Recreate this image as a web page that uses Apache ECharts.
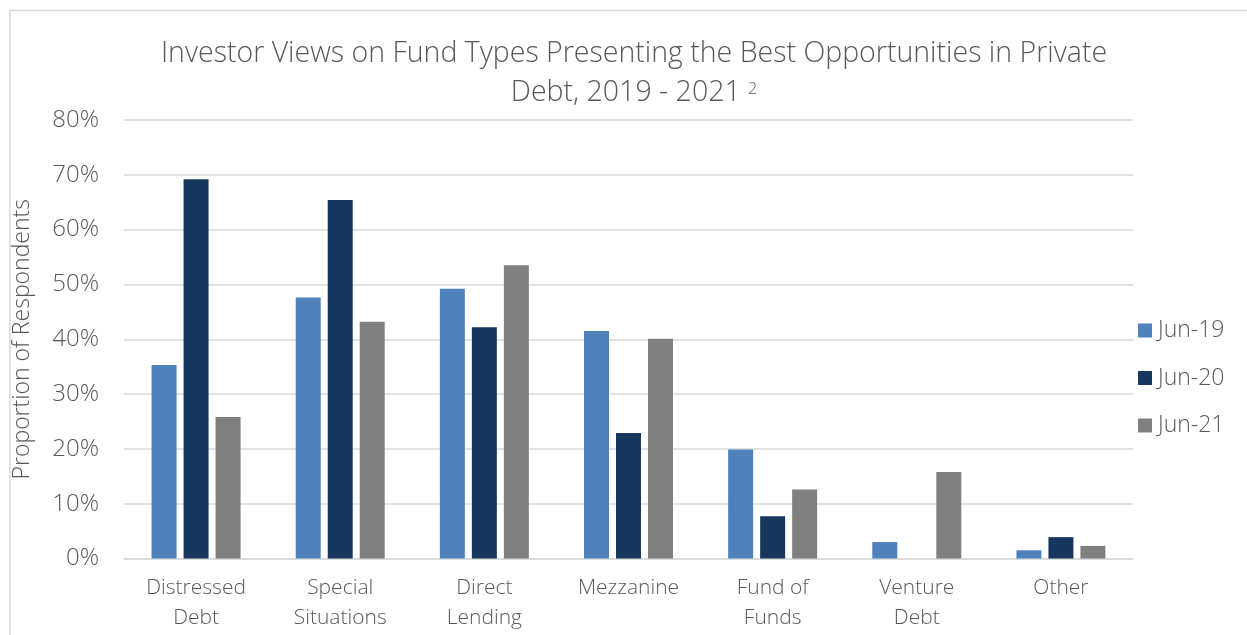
<!DOCTYPE html>
<html>
<head>
<meta charset="utf-8">
<script src="https://cdn.jsdelivr.net/npm/echarts@6/dist/echarts.min.js"></script>
<style>
html,body{margin:0;padding:0;background:#fff;}
#chart{width:1247px;height:635px;}
</style>
</head>
<body>
<div id="chart"></div>
<script>
const categories = ['Distressed\nDebt', 'Special\nSituations', 'Direct\nLending', 'Mezzanine', 'Fund of\nFunds', 'Venture\nDebt', 'Other'];
const seriesNames = ['Jun-19', 'Jun-20', 'Jun-21'];
const jun19 = [35.3, 47.6, 49.2, 41.5, 19.9, 3.0, 1.5];
const jun20 = [69.2, 65.4, 42.2, 22.9, 7.7, 0, 3.9];
const jun21 = [25.8, 43.2, 53.5, 40.1, 12.6, 15.8, 2.3];
const yTicks = [0, 10, 20, 30, 40, 50, 60, 70, 80];
const colors = ['#4F81BD', '#17375E', '#808080'];

const FONT = 'Open Sans';
const W = 300;
const TXT = '#595959';

const chart = echarts.init(document.getElementById('chart'));
const data = [jun19, jun20, jun21];

chart.setOption({
  animation: false,
  backgroundColor: '#ffffff',
  title: {
    left: 634,
    textAlign: 'center',
    top: 34,
    padding: 0,
    text: '{a|Investor Views on Fund Types Presenting the Best Opportunities in Private}\n{a|Debt, 2019 - 2021 }{sup|2}',
    textStyle: {
      rich: {
        a: { fontFamily: FONT, fontWeight: W, fontSize: 28.5, color: TXT, lineHeight: 39 },
        sup: { fontFamily: FONT, fontWeight: W, fontSize: 16, color: TXT, lineHeight: 16, verticalAlign: 'top', padding: [8, 0, 0, 0] }
      }
    }
  },
  graphic: [
    { type: 'line', shape: { x1: 9, y1: 10.5, x2: 1247, y2: 10.5 }, style: { stroke: '#d9d9d9', lineWidth: 1.5 }, silent: true },
    { type: 'line', shape: { x1: 10, y1: 10, x2: 10, y2: 635 }, style: { stroke: '#d9d9d9', lineWidth: 1.5 }, silent: true }
  ],
  legend: {
    orient: 'vertical',
    left: 1138,
    top: 319,
    padding: 0,
    itemWidth: 14,
    itemHeight: 14,
    itemGap: 24.5,
    icon: 'rect',
    data: seriesNames,
    textStyle: { fontFamily: FONT, fontWeight: W, fontSize: 23, color: TXT, lineHeight: 23, padding: [0, 0, 0, 1] }
  },
  grid: { left: 124, right: 114, top: 120, bottom: 76.5, containLabel: false },
  xAxis: {
    type: 'category',
    data: categories,
    axisTick: { show: false },
    axisLine: { lineStyle: { color: '#d9d9d9', width: 1.5 } },
    axisLabel: { fontFamily: FONT, fontWeight: W, fontSize: 21, color: TXT, lineHeight: 30, margin: 15, interval: 0 }
  },
  yAxis: {
    type: 'value',
    min: 0,
    max: 80,
    interval: 10,
    name: 'Proportion of Respondents',
    nameLocation: 'middle',
    nameRotate: 90,
    nameGap: 90,
    nameTextStyle: { fontFamily: FONT, fontWeight: W, fontSize: 23, color: TXT },
    axisLine: { show: false },
    axisTick: { show: false },
    splitLine: { lineStyle: { color: '#d9d9d9', width: 1.5 } },
    axisLabel: {
      fontFamily: FONT, fontWeight: W, fontSize: 24, color: TXT, margin: 25,
      formatter: function (v) { return yTicks.indexOf(v) >= 0 ? v + '%' : ''; }
    }
  },
  series: seriesNames.map(function (name, i) {
    return {
      name: name,
      type: 'bar',
      data: data[i],
      barWidth: 25,
      barGap: '28%',
      itemStyle: { color: colors[i] }
    };
  })
});
</script>
</body>
</html>
